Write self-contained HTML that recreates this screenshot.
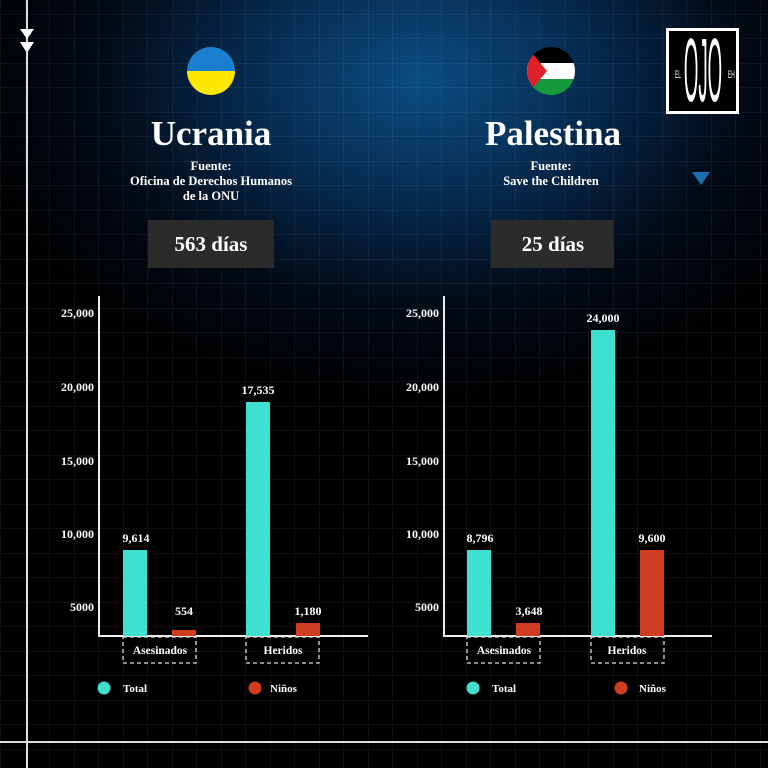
<!DOCTYPE html>
<html><head><meta charset="utf-8"><style>
html,body{margin:0;padding:0;background:#000;}
body{width:768px;height:768px;overflow:hidden;position:relative;}
svg{position:absolute;left:0;top:0;}
text{font-family:"Liberation Serif",serif;fill:#fff;font-weight:bold;}
</style></head><body>
<svg width="768" height="768" viewBox="0 0 768 768">
<defs>
<radialGradient id="g" cx="420" cy="80" r="460" gradientUnits="userSpaceOnUse" gradientTransform="translate(420 80) scale(1 0.7) translate(-420 -80)">
<stop offset="0" stop-color="#0b4d80"/><stop offset="0.35" stop-color="#062c52"/><stop offset="0.7" stop-color="#020a16"/><stop offset="1" stop-color="#000"/>
</radialGradient>
<pattern id="grid" x="0.5" y="14" width="24.5" height="24.5" patternUnits="userSpaceOnUse">
<path d="M0 0H24.5M0 0V24.5" stroke="#ffffff" stroke-opacity="0.11" stroke-width="1" fill="none"/>
</pattern>
</defs>
<rect width="768" height="768" fill="url(#g)"/>
<rect width="768" height="768" fill="url(#grid)"/>
<line x1="27" y1="0" x2="27" y2="768" stroke="#ddd" stroke-width="2"/>
<line x1="0" y1="742" x2="768" y2="742" stroke="#ddd" stroke-width="2"/>
<polygon points="20,29 34,29 27,39" fill="#fff"/>
<polygon points="20,42 34,42 27,53" fill="#fff"/>
<!-- logo -->
<rect x="666" y="28" width="73" height="86" fill="#fff"/>
<rect x="669" y="31" width="67" height="80" fill="#000"/>
<text transform="translate(703,101) scale(0.62,3)" font-size="30" text-anchor="middle" style="font-family:'Liberation Sans',sans-serif;font-weight:normal">OJO</text>
<text transform="translate(675,78) scale(0.6,1.4)" font-size="8" style="font-family:'Liberation Sans',sans-serif;font-weight:normal">EL</text>
<text transform="translate(728,78) scale(0.6,1.4)" font-size="8" style="font-family:'Liberation Sans',sans-serif;font-weight:normal">EH</text>
<polygon points="692,172 710,172 701,185" fill="#1a6fb0"/>
<!-- flags -->
<clipPath id="c1"><circle cx="211" cy="71" r="24"/></clipPath>
<g clip-path="url(#c1)"><rect x="187" y="47" width="48" height="24" fill="#1a7fcf"/><rect x="187" y="71" width="48" height="24" fill="#ffe800"/></g>
<clipPath id="c2"><circle cx="551" cy="71" r="24"/></clipPath>
<g clip-path="url(#c2)"><rect x="527" y="47" width="48" height="16" fill="#000"/><rect x="527" y="63" width="48" height="16" fill="#fff"/><rect x="527" y="79" width="48" height="16" fill="#149a3c"/><polygon points="527,47 547,71 527,95" fill="#e0202a"/></g>
<text x="211" y="145" font-size="35" text-anchor="middle">Ucrania</text>
<text x="553" y="145" font-size="35" text-anchor="middle">Palestina</text>
<g font-size="12.5" text-anchor="middle">
<text x="211" y="170">Fuente:</text>
<text x="211" y="185">Oficina de Derechos Humanos</text>
<text x="211" y="200">de la ONU</text>
<text x="551" y="170">Fuente:</text>
<text x="551" y="185">Save the Children</text>
</g>
<rect x="148" y="220" width="126" height="48" fill="#2b2b2b"/>
<rect x="491" y="220" width="123" height="48" fill="#2b2b2b"/>
<text x="211" y="251" font-size="21" text-anchor="middle">563 días</text>
<text x="553" y="251" font-size="21" text-anchor="middle">25 días</text>
<g font-size="12">
<line x1="99" y1="296" x2="99" y2="637" stroke="#eee" stroke-width="2"/>
<line x1="98" y1="636" x2="368" y2="636" stroke="#eee" stroke-width="2"/>
<text x="94" y="317" text-anchor="end">25,000</text>
<text x="94" y="391" text-anchor="end">20,000</text>
<text x="94" y="465" text-anchor="end">15,000</text>
<text x="94" y="538" text-anchor="end">10,000</text>
<text x="94" y="611" text-anchor="end">5000</text>
<rect x="123" y="550" width="24" height="86" fill="#40e0d0"/>
<rect x="172" y="630" width="24" height="6" fill="#d03c22"/>
<rect x="246" y="402" width="24" height="234" fill="#40e0d0"/>
<rect x="296" y="623" width="24" height="13" fill="#d03c22"/>
<text x="136" y="542" text-anchor="middle">9,614</text>
<text x="184" y="615" text-anchor="middle">554</text>
<text x="258" y="394" text-anchor="middle">17,535</text>
<text x="308" y="615" text-anchor="middle">1,180</text>
<rect x="123" y="637" width="73" height="26" fill="none" stroke="#ddd" stroke-dasharray="4 3" stroke-width="1.3"/>
<rect x="246" y="637" width="73" height="26" fill="none" stroke="#ddd" stroke-dasharray="4 3" stroke-width="1.3"/>
<text x="160" y="654" text-anchor="middle" font-size="11.5">Asesinados</text>
<text x="283" y="654" text-anchor="middle" font-size="11.5">Heridos</text>
<circle cx="104" cy="688" r="6.5" fill="#40e0d0"/>
<circle cx="255" cy="688" r="6.5" fill="#d03c22"/>
<text x="123" y="692" font-size="11">Total</text>
<text x="270" y="692" font-size="11">Niños</text>
</g>
<g font-size="12">
<line x1="444" y1="296" x2="444" y2="637" stroke="#eee" stroke-width="2"/>
<line x1="443" y1="636" x2="712" y2="636" stroke="#eee" stroke-width="2"/>
<text x="439" y="317" text-anchor="end">25,000</text>
<text x="439" y="391" text-anchor="end">20,000</text>
<text x="439" y="465" text-anchor="end">15,000</text>
<text x="439" y="538" text-anchor="end">10,000</text>
<text x="439" y="611" text-anchor="end">5000</text>
<rect x="467" y="550" width="24" height="86" fill="#40e0d0"/>
<rect x="516" y="623" width="24" height="13" fill="#d03c22"/>
<rect x="591" y="330" width="24" height="306" fill="#40e0d0"/>
<rect x="640" y="550" width="24" height="86" fill="#d03c22"/>
<text x="480" y="542" text-anchor="middle">8,796</text>
<text x="529" y="615" text-anchor="middle">3,648</text>
<text x="603" y="322" text-anchor="middle">24,000</text>
<text x="652" y="542" text-anchor="middle">9,600</text>
<rect x="467" y="637" width="73" height="26" fill="none" stroke="#ddd" stroke-dasharray="4 3" stroke-width="1.3"/>
<rect x="591" y="637" width="73" height="26" fill="none" stroke="#ddd" stroke-dasharray="4 3" stroke-width="1.3"/>
<text x="504" y="654" text-anchor="middle" font-size="11.5">Asesinados</text>
<text x="627" y="654" text-anchor="middle" font-size="11.5">Heridos</text>
<circle cx="473" cy="688" r="6.5" fill="#40e0d0"/>
<circle cx="621" cy="688" r="6.5" fill="#d03c22"/>
<text x="492" y="692" font-size="11">Total</text>
<text x="639" y="692" font-size="11">Niños</text>
</g>
</svg>
</body></html>
